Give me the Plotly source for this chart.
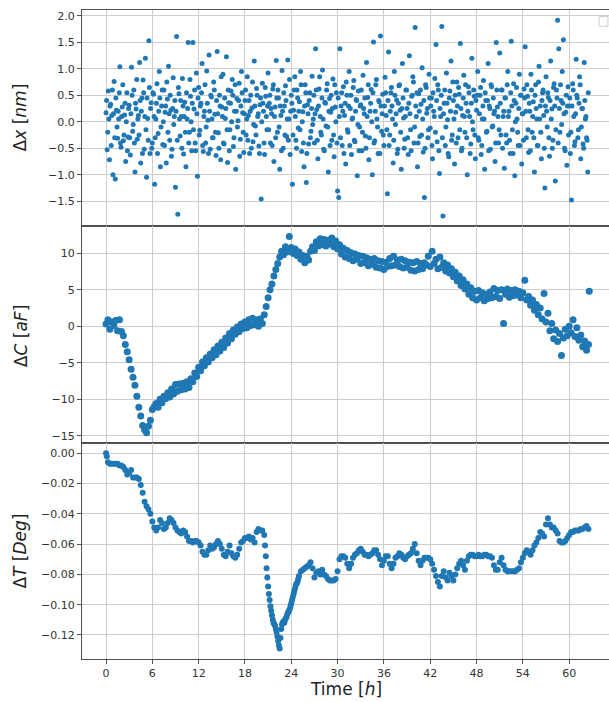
import plotly.graph_objects as go
from plotly.subplots import make_subplots

# ---------------- data ----------------
# Panel 1: displacement noise  (time in hours, value in nm) - two interleaved readings
dx_time = [
    0.0, 0.15, 0.3, 0.45, 0.6, 0.75, 0.9, 1.05, 1.2, 1.35, 1.5, 1.65, 1.8, 1.95, 2.1, 2.25, 2.4, 2.55, 2.7, 2.85,
    3.0, 3.15, 3.3, 3.45, 3.6, 3.75, 3.9, 4.05, 4.2, 4.35, 4.5, 4.65, 4.8, 4.95, 5.1, 5.25, 5.4, 5.55, 5.7, 5.85,
    6.0, 6.15, 6.3, 6.45, 6.6, 6.75, 6.9, 7.05, 7.2, 7.35, 7.5, 7.65, 7.8, 7.95, 8.1, 8.25, 8.4, 8.55, 8.7, 8.85,
    9.0, 9.15, 9.3, 9.45, 9.6, 9.75, 9.9, 10.05, 10.2, 10.35, 10.5, 10.65, 10.8, 10.95, 11.1, 11.25, 11.4, 11.55, 11.7, 11.85,
    12.0, 12.15, 12.3, 12.45, 12.6, 12.75, 12.9, 13.05, 13.2, 13.35, 13.5, 13.65, 13.8, 13.95, 14.1, 14.25, 14.4, 14.55, 14.7, 14.85,
    15.0, 15.15, 15.3, 15.45, 15.6, 15.75, 15.9, 16.05, 16.2, 16.35, 16.5, 16.65, 16.8, 16.95, 17.1, 17.25, 17.4, 17.55, 17.7, 17.85,
    18.0, 18.15, 18.3, 18.45, 18.6, 18.75, 18.9, 19.05, 19.2, 19.35, 19.5, 19.65, 19.8, 19.95, 20.1, 20.25, 20.4, 20.55, 20.7, 20.85,
    21.0, 21.15, 21.3, 21.45, 21.6, 21.75, 21.9, 22.05, 22.2, 22.35, 22.5, 22.65, 22.8, 22.95, 23.1, 23.25, 23.4, 23.55, 23.7, 23.85,
    24.0, 24.15, 24.3, 24.45, 24.6, 24.75, 24.9, 25.05, 25.2, 25.35, 25.5, 25.65, 25.8, 25.95, 26.1, 26.25, 26.4, 26.55, 26.7, 26.85,
    27.0, 27.15, 27.3, 27.45, 27.6, 27.75, 27.9, 28.05, 28.2, 28.35, 28.5, 28.65, 28.8, 28.95, 29.1, 29.25, 29.4, 29.55, 29.7, 29.85,
    30.0, 30.15, 30.3, 30.45, 30.6, 30.75, 30.9, 31.05, 31.2, 31.35, 31.5, 31.65, 31.8, 31.95, 32.1, 32.25, 32.4, 32.55, 32.7, 32.85,
    33.0, 33.15, 33.3, 33.45, 33.6, 33.75, 33.9, 34.05, 34.2, 34.35, 34.5, 34.65, 34.8, 34.95, 35.1, 35.25, 35.4, 35.55, 35.7, 35.85,
    36.0, 36.15, 36.3, 36.45, 36.6, 36.75, 36.9, 37.05, 37.2, 37.35, 37.5, 37.65, 37.8, 37.95, 38.1, 38.25, 38.4, 38.55, 38.7, 38.85,
    39.0, 39.15, 39.3, 39.45, 39.6, 39.75, 39.9, 40.05, 40.2, 40.35, 40.5, 40.65, 40.8, 40.95, 41.1, 41.25, 41.4, 41.55, 41.7, 41.85,
    42.0, 42.15, 42.3, 42.45, 42.6, 42.75, 42.9, 43.05, 43.2, 43.35, 43.5, 43.65, 43.8, 43.95, 44.1, 44.25, 44.4, 44.55, 44.7, 44.85,
    45.0, 45.15, 45.3, 45.45, 45.6, 45.75, 45.9, 46.05, 46.2, 46.35, 46.5, 46.65, 46.8, 46.95, 47.1, 47.25, 47.4, 47.55, 47.7, 47.85,
    48.0, 48.15, 48.3, 48.45, 48.6, 48.75, 48.9, 49.05, 49.2, 49.35, 49.5, 49.65, 49.8, 49.95, 50.1, 50.25, 50.4, 50.55, 50.7, 50.85,
    51.0, 51.15, 51.3, 51.45, 51.6, 51.75, 51.9, 52.05, 52.2, 52.35, 52.5, 52.65, 52.8, 52.95, 53.1, 53.25, 53.4, 53.55, 53.7, 53.85,
    54.0, 54.15, 54.3, 54.45, 54.6, 54.75, 54.9, 55.05, 55.2, 55.35, 55.5, 55.65, 55.8, 55.95, 56.1, 56.25, 56.4, 56.55, 56.7, 56.85,
    57.0, 57.15, 57.3, 57.45, 57.6, 57.75, 57.9, 58.05, 58.2, 58.35, 58.5, 58.65, 58.8, 58.95, 59.1, 59.25, 59.4, 59.55, 59.7, 59.85,
    60.0, 60.15, 60.3, 60.45, 60.6, 60.75, 60.9, 61.05, 61.2, 61.35, 61.5, 61.65, 61.8, 61.95, 62.1, 62.25, 62.4,
]
dx_nm = [
    0.17, -0.53, 0.58, -0.72, 0.33, 0.12, -1.0, 0.76, -1.08, 0.22, -0.31, 0.05, 1.04, -0.48, 0.28, -0.36, 0.13, -0.75, 0.55, -0.29,
    0.31, -0.63, 1.03, -0.18, 0.6, -0.95, 0.24, -0.33, 0.12, 1.12, -0.78, 0.45, 0.79, -0.52, 1.2, -1.05, 0.06, 1.53, -0.6, 0.36,
    -0.4, 0.52, -1.18, 0.05, 0.72, -0.22, 0.95, -0.85, 0.3, -0.43, 0.6, 0.18, -0.78, 0.43, 1.05, -0.35, 0.22, -0.52, 0.83, 0.1,
    -1.24, 1.61, -1.75, 0.53, -0.27, 0.1, 0.82, -0.61, 0.37, -0.85, 0.05, 1.5, -0.2, 0.48, -0.55, 1.5, 0.24, -0.4, 0.92, -1.03,
    0.65, -0.16, 0.35, 1.1, -0.56, 0.2, -0.4, 0.96, 0.03, 1.26, -0.52, 0.47, -0.3, 0.75, 0.14, -0.64, 1.33, -0.21, 0.5, -0.72,
    0.28, 0.9, -0.42, 0.06, 1.23, -0.77, 0.36, -0.15, 0.58, 0.8, -0.47, 0.2, -0.9, 0.44, 0.02, 0.73, -0.33, 0.95, 0.17, -0.58,
    0.4, -0.25, 0.85, 0.12, -0.6, 0.5, 0.26, -0.38, 1.15, -0.08, 0.63, 0.1, -0.46, 0.32, -1.46, 0.73, 0.2, -0.62, 0.48, -0.15,
    0.92, 0.35, -0.4, 0.15, 0.62, -0.75, 0.28, 1.16, -0.2, 0.45, -0.9, 0.12, 0.97, -0.5, 0.3, 0.68, -0.28, 1.17, 0.05, -0.62,
    0.5, -1.18, 0.22, 0.85, -0.35, 0.6, -0.12, 0.38, 0.95, -0.56, 0.19, -0.85, 0.7, -1.15, 0.32, -0.42, 0.55, -0.18, 0.86, 0.05,
    -0.4, 1.38, 0.23, -0.7, 0.62, 0.1, -0.25, 0.98, -0.52, 0.37, -0.08, 0.72, -0.95, 0.44, 0.18, -0.35, 0.81, -0.66, 0.28, 0.55,
    -1.31, -1.43, 1.38, 0.3, -0.45, 0.66, 0.12, -0.8, 0.5, -0.2, 0.95, 0.25, -0.62, 0.07, 0.78, -0.38, 0.42, -1.02, 0.58, -0.1,
    0.32, -0.55, 0.88, 0.15, -0.27, 1.12, 0.46, -0.72, 0.2, 0.61, -1.0, 1.51, -0.36, 0.7, 0.05, -0.6, 0.38, 1.62, -0.18, 0.52,
    -0.45, 0.84, 0.12, -1.36, 1.32, -0.25, 0.55, 0.3, -0.78, 0.95, -0.05, 0.41, -0.52, 0.68, 0.22, -0.9, 1.1, 0.07, -0.33, 0.6,
    0.25, -0.62, 1.25, -0.15, 0.48, 0.85, -0.4, 1.78, 0.1, -0.85, 0.53, -0.28, 0.33, 1.02, -0.57, -1.43, 0.7, 0.16, -0.3, 0.9,
    -0.12, 0.45, -0.7, 0.2, 0.82, 1.46, -0.38, 0.6, -0.98, 0.1, 1.8, -1.78, 0.35, -0.45, 0.92, 0.04, -0.66, 0.58, 1.15, -0.25,
    0.4, -0.8, 0.18, 0.75, -0.3, 0.52, 1.48, -0.55, 0.12, 0.88, -0.2, 0.35, -1.0, 0.66, 0.1, -0.42, 1.2, -0.15, 0.48, -0.7,
    0.22, 0.95, -0.35, 0.5, -0.62, 0.05, 0.78, -0.9, 0.4, -0.18, 1.1, 0.3, -0.52, 0.66, -0.08, 0.15, -0.75, 1.5, 0.28, -0.4,
    1.3, -0.25, 0.6, 0.1, -0.88, 0.45, -0.4, 0.95, 0.2, -0.6, 1.52, -0.15, 0.72, -1.02, 0.35, 0.05, -0.45, 0.9, 0.5, -0.8,
    0.15, 0.62, 1.42, -0.3, 0.48, -0.58, 0.2, 0.9, -0.2, 0.38, -0.95, 0.7, 0.05, -0.45, 1.05, 0.3, -0.7, 0.55, 0.12, -1.25,
    0.85, -0.1, 0.46, -0.65, 1.15, 0.24, -0.35, 0.72, -1.12, 0.6, 1.92, 1.38, -0.2, 0.4, 0.95, 1.55, -0.5, 0.18, -0.82, 0.66,
    0.3, -0.6, -1.48, 0.72, 0.1, -0.38, 1.18, 0.45, -0.15, 0.85, -0.7, 0.25, -0.42, 1.12, 0.05, -0.3, -0.95,
]
dx_time_b = [
    0.075, 0.225, 0.375, 0.525, 0.675, 0.825, 0.975, 1.125, 1.275, 1.425, 1.575, 1.725, 1.875, 2.025, 2.175, 2.325, 2.475, 2.625, 2.775, 2.925,
    3.075, 3.225, 3.375, 3.525, 3.675, 3.825, 3.975, 4.125, 4.275, 4.425, 4.575, 4.725, 4.875, 5.025, 5.175, 5.325, 5.475, 5.625, 5.775, 5.925,
    6.075, 6.225, 6.375, 6.525, 6.675, 6.825, 6.975, 7.125, 7.275, 7.425, 7.575, 7.725, 7.875, 8.025, 8.175, 8.325, 8.475, 8.625, 8.775, 8.925,
    9.075, 9.225, 9.375, 9.525, 9.675, 9.825, 9.975, 10.125, 10.275, 10.425, 10.575, 10.725, 10.875, 11.025, 11.175, 11.325, 11.475, 11.625, 11.775, 11.925,
    12.075, 12.225, 12.375, 12.525, 12.675, 12.825, 12.975, 13.125, 13.275, 13.425, 13.575, 13.725, 13.875, 14.025, 14.175, 14.325, 14.475, 14.625, 14.775, 14.925,
    15.075, 15.225, 15.375, 15.525, 15.675, 15.825, 15.975, 16.125, 16.275, 16.425, 16.575, 16.725, 16.875, 17.025, 17.175, 17.325, 17.475, 17.625, 17.775, 17.925,
    18.075, 18.225, 18.375, 18.525, 18.675, 18.825, 18.975, 19.125, 19.275, 19.425, 19.575, 19.725, 19.875, 20.025, 20.175, 20.325, 20.475, 20.625, 20.775, 20.925,
    21.075, 21.225, 21.375, 21.525, 21.675, 21.825, 21.975, 22.125, 22.275, 22.425, 22.575, 22.725, 22.875, 23.025, 23.175, 23.325, 23.475, 23.625, 23.775, 23.925,
    24.075, 24.225, 24.375, 24.525, 24.675, 24.825, 24.975, 25.125, 25.275, 25.425, 25.575, 25.725, 25.875, 26.025, 26.175, 26.325, 26.475, 26.625, 26.775, 26.925,
    27.075, 27.225, 27.375, 27.525, 27.675, 27.825, 27.975, 28.125, 28.275, 28.425, 28.575, 28.725, 28.875, 29.025, 29.175, 29.325, 29.475, 29.625, 29.775, 29.925,
    30.075, 30.225, 30.375, 30.525, 30.675, 30.825, 30.975, 31.125, 31.275, 31.425, 31.575, 31.725, 31.875, 32.025, 32.175, 32.325, 32.475, 32.625, 32.775, 32.925,
    33.075, 33.225, 33.375, 33.525, 33.675, 33.825, 33.975, 34.125, 34.275, 34.425, 34.575, 34.725, 34.875, 35.025, 35.175, 35.325, 35.475, 35.625, 35.775, 35.925,
    36.075, 36.225, 36.375, 36.525, 36.675, 36.825, 36.975, 37.125, 37.275, 37.425, 37.575, 37.725, 37.875, 38.025, 38.175, 38.325, 38.475, 38.625, 38.775, 38.925,
    39.075, 39.225, 39.375, 39.525, 39.675, 39.825, 39.975, 40.125, 40.275, 40.425, 40.575, 40.725, 40.875, 41.025, 41.175, 41.325, 41.475, 41.625, 41.775, 41.925,
    42.075, 42.225, 42.375, 42.525, 42.675, 42.825, 42.975, 43.125, 43.275, 43.425, 43.575, 43.725, 43.875, 44.025, 44.175, 44.325, 44.475, 44.625, 44.775, 44.925,
    45.075, 45.225, 45.375, 45.525, 45.675, 45.825, 45.975, 46.125, 46.275, 46.425, 46.575, 46.725, 46.875, 47.025, 47.175, 47.325, 47.475, 47.625, 47.775, 47.925,
    48.075, 48.225, 48.375, 48.525, 48.675, 48.825, 48.975, 49.125, 49.275, 49.425, 49.575, 49.725, 49.875, 50.025, 50.175, 50.325, 50.475, 50.625, 50.775, 50.925,
    51.075, 51.225, 51.375, 51.525, 51.675, 51.825, 51.975, 52.125, 52.275, 52.425, 52.575, 52.725, 52.875, 53.025, 53.175, 53.325, 53.475, 53.625, 53.775, 53.925,
    54.075, 54.225, 54.375, 54.525, 54.675, 54.825, 54.975, 55.125, 55.275, 55.425, 55.575, 55.725, 55.875, 56.025, 56.175, 56.325, 56.475, 56.625, 56.775, 56.925,
    57.075, 57.225, 57.375, 57.525, 57.675, 57.825, 57.975, 58.125, 58.275, 58.425, 58.575, 58.725, 58.875, 59.025, 59.175, 59.325, 59.475, 59.625, 59.775, 59.925,
    60.075, 60.225, 60.375, 60.525, 60.675, 60.825, 60.975, 61.125, 61.275, 61.425, 61.575, 61.725, 61.875, 62.025, 62.175, 62.325, 62.475,
]
dx_nm_b = [
    0.4, -0.2, 0.05, 0.3, -0.45, 0.6, 0.15, -0.3, 0.45, -0.1, 0.2, 0.55, -0.4, 0.1, 0.7, -0.25, 0.35, 0.0, -0.55, 0.25,
    -0.3, 0.15, 0.5, -0.05, -0.4, 0.35, 0.8, 0.05, -0.25, 0.4, 0.2, -0.6, 0.55, 0.1, -0.15, 0.45, -0.35, 0.65, 0.25, -0.5,
    0.55, 0.1, -0.3, 0.35, -0.6, 0.2, 0.45, -0.1, 0.6, 0.0, -0.45, 0.3, 0.75, -0.2, 0.15, 0.5, -0.65, 0.25, -0.05, 0.4,
    0.2, -0.35, 0.65, 0.05, 0.4, -0.5, 0.3, 0.1, -0.2, 0.55, 0.25, -0.4, 0.8, 0.0, 0.35, -0.15, 0.6, -0.55, 0.15, 0.45,
    -0.25, 0.3, 0.55, -0.45, 0.1, 0.7, -0.1, 0.35, -0.6, 0.2, 0.5, 0.05, -0.3, 0.6, -0.2, 0.4, 0.15, -0.5, 0.3, 0.85,
    0.1, -0.4, 0.45, 0.25, -0.15, 0.6, -0.55, 0.35, 0.0, 0.5, -0.3, 0.7, 0.2, -0.1, 0.4, -0.65, 0.3, 0.55, -0.2, 0.15,
    0.6, 0.05, -0.35, 0.4, 0.2, -0.5, 0.75, -0.05, 0.3, -0.25, 0.5, 0.15, -0.6, 0.45, 0.0, 0.35, -0.4, 0.65, 0.1, 0.3,
    -0.15, 0.5, 0.25, -0.45, 0.7, 0.1, -0.3, 0.45, 0.6, -0.1, 0.3, -0.55, 0.2, 0.55, -0.25, 0.4, 0.05, -0.35, 0.8, 0.2,
    0.35, -0.25, 0.6, 0.1, -0.5, 0.45, 0.2, -0.15, 0.7, 0.0, -0.4, 0.3, 0.55, -0.6, 0.15, 0.4, -0.3, 0.25, -0.05, 0.5,
    0.15, 0.6, -0.35, 0.3, 0.85, -0.2, 0.45, 0.05, -0.55, 0.35, 0.6, -0.1, 0.2, -0.45, 0.5, 0.25, -0.25, 0.7, 0.0, -0.4,
    0.45, 0.1, -0.3, 0.55, 0.2, -0.6, 0.35, 0.75, -0.15, 0.3, -0.45, 0.5, 0.05, 0.65, -0.35, 0.2, 0.4, -0.05, -0.55, 0.3,
    0.6, -0.2, 0.25, 0.45, -0.5, 0.1, 0.7, -0.3, 0.35, 0.0, 0.55, -0.4, 0.2, 0.8, -0.1, 0.4, -0.6, 0.3, 0.15, -0.25,
    0.3, 0.55, -0.15, 0.4, -0.45, 0.2, 0.65, 0.05, -0.35, 0.5, 0.15, -0.6, 0.35, 0.7, -0.2, 0.25, 0.45, -0.5, 0.1, 0.6,
    -0.3, 0.35, 0.15, -0.55, 0.5, 0.75, -0.1, 0.3, 0.55, -0.4, 0.2, 0.6, -0.25, 0.05, 0.4, -0.5, 0.65, 0.25, -0.15, 0.45,
    0.3, -0.45, 0.55, 0.1, -0.2, 0.4, 0.7, -0.55, 0.25, 0.5, -0.3, 0.15, 0.6, -0.1, 0.35, -0.6, 0.45, 0.2, -0.35, 0.75,
    0.05, 0.5, -0.4, 0.3, 0.65, -0.15, 0.25, -0.5, 0.45, 0.1, 0.7, -0.3, 0.2, 0.55, -0.6, 0.35, 0.0, 0.6, -0.25, 0.4,
    0.5, -0.3, 0.15, 0.65, -0.45, 0.3, 0.05, 0.55, -0.2, 0.4, -0.55, 0.25, 0.7, -0.1, 0.45, 0.2, -0.4, 0.6, 0.1, -0.15,
    0.35, 0.6, -0.5, 0.2, 0.45, -0.25, 0.7, 0.1, -0.35, 0.55, 0.3, -0.6, 0.4, 0.0, 0.65, -0.2, 0.25, -0.45, 0.5, 0.15,
    -0.35, 0.45, 0.2, 0.7, -0.15, 0.35, -0.55, 0.6, 0.1, -0.3, 0.5, 0.25, -0.45, 0.75, 0.05, -0.2, 0.4, 0.6, -0.5, 0.3,
    0.2, 0.55, -0.3, 0.4, 0.05, -0.5, 0.65, 0.3, -0.15, 0.45, -0.4, 0.25, 0.7, -0.05, 0.35, 0.15, -0.55, 0.5, 0.3, -0.25,
    0.45, -0.2, 0.3, 0.6, -0.45, 0.15, 0.5, -0.3, 0.35, 0.7, -0.1, 0.25, -0.5, 0.4, 0.1, -0.35, 0.55,
]

# Panel 2: capacitance drift (aF)
dc_time = [
    0.0, 0.25, 0.5, 0.75, 1.0, 1.25, 1.5, 1.75, 2.0, 2.25, 2.5, 2.75, 3.0, 3.25, 3.5, 3.75,
    4.0, 4.25, 4.5, 4.75, 5.0, 5.25, 5.5, 5.75, 6.0, 6.25, 6.5, 6.75, 7.0, 7.25, 7.5, 7.75,
    8.0, 8.25, 8.5, 8.75, 9.0, 9.25, 9.5, 9.75, 10.0, 10.25, 10.5, 10.75, 11.0, 11.25, 11.5, 11.75,
    12.0, 12.25, 12.5, 12.75, 13.0, 13.25, 13.5, 13.75, 14.0, 14.25, 14.5, 14.75, 15.0, 15.25, 15.5, 15.75,
    16.0, 16.25, 16.5, 16.75, 17.0, 17.25, 17.5, 17.75, 18.0, 18.25, 18.5, 18.75, 19.0, 19.25, 19.5, 19.75,
    20.0, 20.25, 20.5, 20.75, 21.0, 21.25, 21.5, 21.75, 22.0, 22.25, 22.5, 22.75, 23.0, 23.25, 23.5, 23.75,
    24.0, 24.25, 24.5, 24.75, 25.0, 25.25, 25.5, 25.75, 26.0, 26.25, 26.5, 26.75, 27.0, 27.25, 27.5, 27.75,
    28.0, 28.25, 28.5, 28.75, 29.0, 29.25, 29.5, 29.75, 30.0, 30.25, 30.5, 30.75, 31.0, 31.25, 31.5, 31.75,
    32.0, 32.25, 32.5, 32.75, 33.0, 33.25, 33.5, 33.75, 34.0, 34.25, 34.5, 34.75, 35.0, 35.25, 35.5, 35.75,
    36.0, 36.25, 36.5, 36.75, 37.0, 37.25, 37.5, 37.75, 38.0, 38.25, 38.5, 38.75, 39.0, 39.25, 39.5, 39.75,
    40.0, 40.25, 40.5, 40.75, 41.0, 41.25, 41.5, 41.75, 42.0, 42.25, 42.5, 42.75, 43.0, 43.25, 43.5, 43.75,
    44.0, 44.25, 44.5, 44.75, 45.0, 45.25, 45.5, 45.75, 46.0, 46.25, 46.5, 46.75, 47.0, 47.25, 47.5, 47.75,
    48.0, 48.25, 48.5, 48.75, 49.0, 49.25, 49.5, 49.75, 50.0, 50.25, 50.5, 50.75, 51.0, 51.25, 51.5, 51.75,
    52.0, 52.25, 52.5, 52.75, 53.0, 53.25, 53.5, 53.75, 54.0, 54.25, 54.5, 54.75, 55.0, 55.25, 55.5, 55.75,
    56.0, 56.25, 56.5, 56.75, 57.0, 57.25, 57.5, 57.75, 58.0, 58.25, 58.5, 58.75, 59.0, 59.25, 59.5, 59.75,
    60.0, 60.25, 60.5, 60.75, 61.0, 61.25, 61.5, 61.75, 62.0, 62.25, 62.5, 62.6,
]
dc_aF = [
    0.3, 0.9, -0.4, 0.6, 0.1, 0.8, -0.6, 0.9, -0.7, -1.3, -2.5, -3.5, -4.6, -5.9, -7.0, -8.1,
    -9.6, -11.1, -12.3, -13.6, -14.2, -14.6, -13.7, -12.9, -11.4, -11.0, -10.6, -11.1, -10.0, -10.5, -9.6, -9.9,
    -9.1, -9.7, -8.6, -9.3, -8.0, -8.9, -7.9, -8.7, -7.8, -8.6, -7.6, -8.4, -7.2, -7.6, -6.4, -6.9,
    -5.6, -6.1, -4.9, -5.4, -4.3, -4.9, -3.8, -4.3, -3.2, -3.9, -2.7, -3.4, -2.2, -2.9, -1.6, -2.3,
    -1.0, -1.7, -0.5, -1.1, -0.1, -0.7, 0.3, -0.3, 0.6, -0.2, 0.9, 0.1, 1.1, 0.2, 0.9, 0.0,
    1.0, 0.4, 1.6, 2.7, 3.9, 5.0, 5.8, 6.9, 7.8, 8.6, 9.5, 10.3, 9.8, 10.9, 10.2, 12.3,
    10.8, 10.0, 10.6, 9.7, 10.2, 9.2, 9.7, 8.7, 9.6, 9.1, 10.3, 10.9, 10.4, 11.6, 11.0, 12.0,
    11.2, 11.9, 11.0, 11.8, 11.3, 12.1, 10.9, 11.7, 10.6, 11.2, 9.9, 10.7, 9.5, 10.4, 9.3, 10.1,
    9.0, 9.9, 9.2, 9.7, 8.6, 9.6, 8.7, 9.4, 8.3, 9.2, 8.5, 9.3, 8.1, 9.0, 8.0, 8.9,
    7.8, 8.8, 8.2, 9.3, 8.3, 9.6, 8.4, 9.1, 8.2, 9.2, 8.0, 9.0, 8.1, 8.8, 7.7, 8.7,
    7.6, 8.9, 7.8, 8.6, 7.9, 8.7, 8.4, 9.6, 8.2, 10.3, 8.6, 9.2, 7.9, 9.5, 8.1, 8.7,
    7.6, 8.4, 7.3, 7.9, 6.8, 7.4, 6.2, 6.9, 5.6, 6.4, 5.1, 5.8, 4.4, 5.3, 3.9, 4.8,
    3.6, 4.9, 3.9, 4.6, 3.5, 4.4, 3.8, 4.7, 3.9, 5.2, 4.1, 4.9, 3.8, 5.0, 0.4, 4.4,
    5.1, 4.0, 4.9, 4.2, 5.0, 4.3, 4.8, 3.9, 4.6, 6.3, 3.6, 4.1, 2.9, 3.6, 2.2, 3.0,
    1.6, 2.5, 1.0, 4.5, 0.6, 1.8, -0.6, 0.4, -1.7, -0.5, -2.1, -1.0, -4.0, -1.6, -0.4, -1.3,
    0.0, -0.9, 0.9, -1.4, -0.2, -1.9, -1.2, -2.8, -2.0, -3.3, -2.5, 4.8,
]

# Panel 3: temperature drift (Deg)
dt_time = [
    0.0, 0.1, 0.25, 0.5, 0.75, 1.0, 1.25, 1.5, 1.75, 2.0,
    2.25, 2.5, 2.75, 3.0, 3.25, 3.5, 3.75, 4.0, 4.25, 4.5, 4.75, 5.0, 5.25, 5.5, 5.75, 6.0,
    6.25, 6.5, 6.75, 7.0, 7.25, 7.5, 7.75, 8.0, 8.25, 8.5, 8.75, 9.0, 9.25, 9.5, 9.75, 10.0,
    10.25, 10.5, 10.75, 11.0, 11.25, 11.5, 11.75, 12.0, 12.25, 12.5, 12.75, 13.0, 13.25, 13.5, 13.75, 14.0,
    14.25, 14.5, 14.75, 15.0, 15.25, 15.5, 15.75, 16.0, 16.25, 16.5, 16.75, 17.0, 17.25, 17.5, 17.75, 18.0,
    18.25, 18.5, 18.75, 19.0, 19.25, 19.5, 19.75, 20.0, 20.25, 20.5,
    20.6, 20.7, 20.8, 20.9, 21.0, 21.1, 21.2, 21.3, 21.4, 21.5,
    21.6, 21.7, 21.8, 21.9, 22.0, 22.1, 22.2, 22.3, 22.4, 22.5,
    22.6, 22.7, 22.8, 22.9, 23.0, 23.1, 23.2, 23.3, 23.4, 23.5,
    23.6, 23.7, 23.8, 23.9, 24.0, 24.1, 24.2, 24.3, 24.4, 24.5,
    24.6, 24.7, 24.8, 24.9, 25.0,
    25.25, 25.5, 25.75, 26.0, 26.25, 26.5, 26.75, 27.0, 27.25, 27.5, 27.75, 28.0, 28.25, 28.5, 28.75, 29.0,
    29.25, 29.5, 29.75, 30.0, 30.25, 30.5, 30.75, 31.0, 31.25, 31.5, 31.75, 32.0, 32.25, 32.5, 32.75, 33.0,
    33.25, 33.5, 33.75, 34.0, 34.25, 34.5, 34.75, 35.0, 35.25, 35.5, 35.75, 36.0, 36.25, 36.5, 36.75, 37.0,
    37.25, 37.5, 37.75, 38.0, 38.25, 38.5, 38.75, 39.0, 39.25, 39.5, 39.75, 40.0, 40.25, 40.5, 40.75, 41.0,
    41.25, 41.5, 41.75, 42.0, 42.25, 42.5, 42.75, 43.0, 43.25, 43.5, 43.75, 44.0, 44.25, 44.5, 44.75, 45.0,
    45.25, 45.5, 45.75, 46.0, 46.25, 46.5, 46.75, 47.0, 47.25, 47.5, 47.75, 48.0, 48.25, 48.5, 48.75, 49.0,
    49.25, 49.5, 49.75, 50.0, 50.25, 50.5, 50.75, 51.0, 51.25, 51.5, 51.75, 52.0, 52.25, 52.5, 52.75, 53.0,
    53.25, 53.5, 53.75, 54.0, 54.25, 54.5, 54.75, 55.0, 55.25, 55.5, 55.75, 56.0, 56.25, 56.5, 56.75, 57.0,
    57.25, 57.5, 57.75, 58.0, 58.25, 58.5, 58.75, 59.0, 59.25, 59.5, 59.75, 60.0, 60.25, 60.5, 60.75, 61.0,
    61.25, 61.5, 61.75, 62.0, 62.25, 62.5,
]
dt_deg = [
    0.000, -0.002, -0.006, -0.007, -0.007, -0.007, -0.007, -0.007, -0.008, -0.008,
    -0.009, -0.011, -0.014, -0.013, -0.011, -0.016, -0.016, -0.016, -0.017, -0.021, -0.026, -0.032, -0.035, -0.037, -0.040, -0.045,
    -0.049, -0.051, -0.049, -0.044, -0.046, -0.050, -0.049, -0.046, -0.043, -0.044, -0.046, -0.049, -0.051, -0.052, -0.053, -0.051,
    -0.052, -0.055, -0.058, -0.058, -0.059, -0.058, -0.058, -0.059, -0.061, -0.065, -0.067, -0.067, -0.064, -0.061, -0.063, -0.062,
    -0.060, -0.058, -0.060, -0.063, -0.067, -0.068, -0.065, -0.061, -0.066, -0.068, -0.069, -0.067, -0.063, -0.059, -0.058, -0.056,
    -0.056, -0.055, -0.057, -0.056, -0.059, -0.052, -0.050, -0.051, -0.051, -0.054,
    -0.061, -0.068, -0.076, -0.082, -0.088, -0.093, -0.097, -0.101, -0.104, -0.107,
    -0.110, -0.112, -0.113, -0.114, -0.116, -0.118, -0.121, -0.124, -0.127, -0.129,
    -0.122, -0.116, -0.113, -0.112, -0.111, -0.112, -0.110, -0.109, -0.108, -0.106,
    -0.105, -0.104, -0.103, -0.101, -0.099, -0.097, -0.095, -0.093, -0.091, -0.089,
    -0.087, -0.086, -0.085, -0.083, -0.081,
    -0.078, -0.077, -0.076, -0.075, -0.074, -0.072, -0.076, -0.082, -0.079, -0.078, -0.080, -0.077, -0.080, -0.081, -0.083, -0.084,
    -0.084, -0.084, -0.083, -0.078, -0.070, -0.068, -0.068, -0.069, -0.073, -0.076, -0.073, -0.069, -0.067, -0.066, -0.064, -0.063,
    -0.065, -0.067, -0.067, -0.068, -0.067, -0.066, -0.064, -0.064, -0.067, -0.070, -0.074, -0.071, -0.068, -0.068, -0.073, -0.076,
    -0.073, -0.069, -0.068, -0.066, -0.067, -0.069, -0.070, -0.068, -0.067, -0.066, -0.063, -0.060, -0.066, -0.071, -0.074, -0.071,
    -0.069, -0.069, -0.069, -0.070, -0.073, -0.077, -0.081, -0.085, -0.088, -0.081, -0.078, -0.082, -0.084, -0.079, -0.081, -0.084,
    -0.080, -0.076, -0.073, -0.071, -0.074, -0.077, -0.071, -0.068, -0.067, -0.067, -0.068, -0.068, -0.067, -0.068, -0.068, -0.067,
    -0.067, -0.068, -0.068, -0.069, -0.074, -0.077, -0.077, -0.072, -0.069, -0.074, -0.077, -0.078, -0.078, -0.078, -0.078, -0.078,
    -0.077, -0.076, -0.072, -0.069, -0.066, -0.064, -0.065, -0.067, -0.064, -0.061, -0.059, -0.056, -0.052, -0.053, -0.055, -0.047,
    -0.043, -0.047, -0.049, -0.049, -0.051, -0.053, -0.058, -0.059, -0.059, -0.058, -0.056, -0.054, -0.052, -0.052, -0.051, -0.051,
    -0.051, -0.050, -0.050, -0.049, -0.048, -0.050,
]

x_ticks = [0, 6, 12, 18, 24, 30, 36, 42, 48, 54, 60]
dx_ticks = [-1.5, -1.0, -0.5, 0.0, 0.5, 1.0, 1.5, 2.0]
dc_ticks = [-15, -10, -5, 0, 5, 10]
dt_ticks = [0.0, -0.02, -0.04, -0.06, -0.08, -0.10, -0.12]

assert len(dx_time) == len(dx_nm), (len(dx_time), len(dx_nm))
assert len(dx_time_b) == len(dx_nm_b), (len(dx_time_b), len(dx_nm_b))
assert len(dc_time) == len(dc_aF), (len(dc_time), len(dc_aF))
assert len(dt_time) == len(dt_deg), (len(dt_time), len(dt_deg))

# ---------------- figure ----------------
BLUE = "#1f77b4"
SPINE = "#505050"
GRID = "#cdcdcd"
FONT = "DejaVu Sans"

fig = make_subplots(rows=3, cols=1, shared_xaxes=True, vertical_spacing=0)

fig.add_trace(go.Scatter(x=dx_time + dx_time_b, y=dx_nm + dx_nm_b, mode="markers",
                         marker=dict(color=BLUE, size=5, line=dict(width=0))), row=1, col=1)
fig.add_trace(go.Scatter(x=dc_time, y=dc_aF, mode="markers",
                         marker=dict(color=BLUE, size=7, line=dict(width=0))), row=2, col=1)
fig.add_trace(go.Scatter(x=dt_time, y=dt_deg, mode="markers",
                         marker=dict(color=BLUE, size=6, line=dict(width=0))), row=3, col=1)

for r in (1, 2, 3):
    fig.update_xaxes(
        row=r, col=1,
        range=[-3.11, 65.16], tickvals=x_ticks,
        showgrid=True, gridcolor=GRID, gridwidth=1,
        showline=True, linecolor=SPINE, linewidth=1, mirror=True,
        zeroline=False,
        ticks="outside" if r == 3 else "", ticklen=4, tickcolor=SPINE,
        showticklabels=(r == 3),
        tickfont=dict(family=FONT, size=11, color="#333333"),
    )

yspecs = {
    1: dict(range=[-1.977, 2.113], tickvals=dx_ticks, tickformat=".1f"),
    2: dict(range=[-15.96, 13.71], tickvals=dc_ticks, tickformat="d"),
    3: dict(range=[-0.1359, 0.0070], tickvals=dt_ticks, tickformat=".2f"),
}
for r, spec in yspecs.items():
    fig.update_yaxes(
        row=r, col=1, **spec,
        showgrid=True, gridcolor=GRID, gridwidth=1,
        showline=True, linecolor=SPINE, linewidth=1, mirror=False,
        zeroline=False,
        ticks="outside", ticklen=4, tickcolor=SPINE,
        tickfont=dict(family=FONT, size=11, color="#333333"),
    )

title_font = dict(family=FONT, size=17, color="#222222")
annotations = [
    dict(text="Δ<i>x</i> [<i>nm</i>]", x=-0.117, y=0.835),
    dict(text="Δ<i>C</i> [<i>aF</i>]", x=-0.117, y=0.498),
    dict(text="Δ<i>T</i> [<i>Deg</i>]", x=-0.117, y=0.166),
]
for a in annotations:
    fig.add_annotation(xref="paper", yref="paper", showarrow=False, textangle=-90,
                       xanchor="center", yanchor="middle", font=title_font, **a)
fig.add_annotation(xref="paper", yref="paper", showarrow=False, text="Time [<i>h</i>]",
                   x=0.5, y=-0.0465, xanchor="center", yanchor="middle", font=title_font)

# empty legend frame in the top-right corner
fig.add_shape(type="rect", xref="paper", yref="paper",
              x0=0.981, x1=0.998, y0=0.975, y1=0.990,
              line=dict(color="#cccccc", width=1), fillcolor="white", layer="above")

fig.update_layout(
    width=609, height=702,
    margin=dict(l=82, r=0, t=10, b=43),
    paper_bgcolor="white", plot_bgcolor="white",
    showlegend=False,
    font=dict(family=FONT),
)

fig.write_html("out.html",
               config={"displayModeBar": False},
               post_script="document.body.style.margin='0';document.body.style.overflow='hidden';")
